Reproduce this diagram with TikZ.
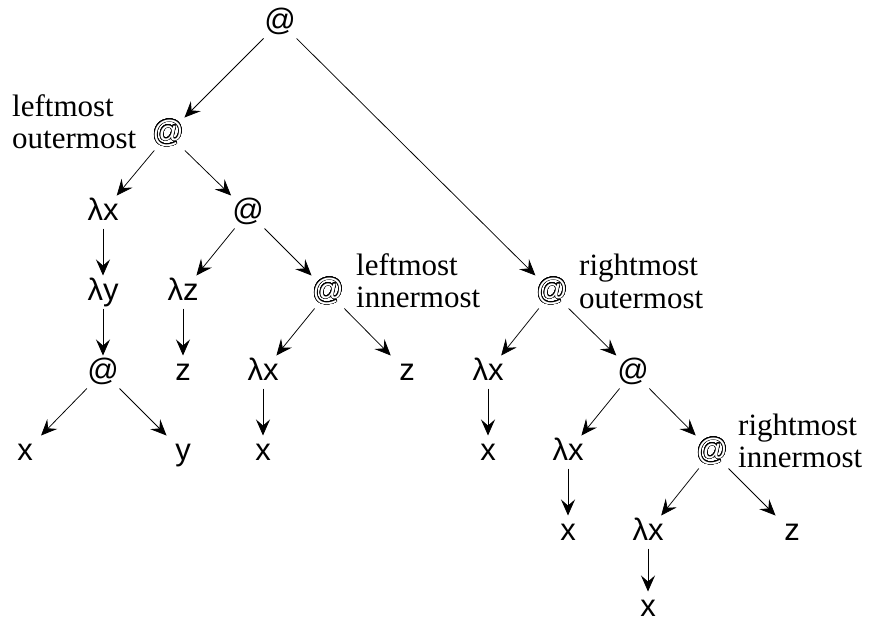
\documentclass[tikz,border=0pt]{standalone}
\usepackage{fontspec}
\setmainfont{Liberation Serif}
\newfontfamily\lamsans{Liberation Sans}
\usepackage{contour}
\contourlength{0.6pt}
\contournumber{32}
\usetikzlibrary{arrows.meta}
\tikzset{
  tn/.style={font=\lamsans\fontsize{31}{33}\selectfont, inner sep=0pt, outer sep=0pt,
    text height=24pt, text depth=8pt, minimum width=34pt, minimum height=33pt},
  lab/.style={font=\fontsize{31}{32}\selectfont, anchor=base west, inner sep=0pt},
  arr/.style={-{Stealth[length=16pt,width=14pt,inset=6pt]}, line width=0.75pt},
}
\newcommand{\outat}{\contour{black}{\textcolor{white}{@}}}
\begin{document}
\begin{tikzpicture}[x=1pt,y=-1pt]
\useasboundingbox (0,0) rectangle (870,621);
% nodes
\node[tn] (root) at (280,22) {@};
\node[tn] (lo) at (168,134) {\outat};
\node[tn] (lx1) at (103,212) {λx};
\node[tn] (a2) at (248,212) {@};
\node[tn] (ly) at (103,292) {λy};
\node[tn] (lz) at (183,292) {λz};
\node[tn] (li) at (328,292) {\outat};
\node[tn] (ro) at (552,292) {\outat};
\node[tn] (a3) at (103,372) {@};
\node[tn] (z1) at (183,372) {z};
\node[tn] (lx2) at (263,372) {λx};
\node[tn] (z2) at (407,372) {z};
\node[tn] (lx3) at (488,372) {λx};
\node[tn] (a4) at (633,372) {@};
\node[tn] (x1) at (25,452) {x};
\node[tn] (y1) at (183,452) {y};
\node[tn] (x2) at (263,452) {x};
\node[tn] (x3) at (488,452) {x};
\node[tn] (lx4) at (568,452) {λx};
\node[tn] (ri) at (712,452) {\outat};
\node[tn] (x4) at (568,532) {x};
\node[tn] (lx5) at (648,532) {λx};
\node[tn] (z3) at (792,532) {z};
\node[tn] (x5) at (648,608) {x};
% labels
\node[lab] (lo1) at (12,116) {leftmost};
\node[lab] (lo2) at (12,148) {outermost};
\node[lab] (li1) at (356,275) {leftmost};
\node[lab] (li2) at (356,307) {innermost};
\node[lab] (ro1) at (579,275) {rightmost};
\node[lab] (ro2) at (579,308) {outermost};
\node[lab] (ri1) at (738,435) {rightmost};
\node[lab] (ri2) at (738,467) {innermost};
% edges
\draw[arr] (root) -- (lo);
\draw[arr] (root) -- (ro);
\draw[arr] (lo) -- (lx1);
\draw[arr] (lo) -- (a2);
\draw[arr] (lx1) -- (ly);
\draw[arr] (ly) -- (a3);
\draw[arr] (a3) -- (x1);
\draw[arr] (a3) -- (y1);
\draw[arr] (a2) -- (lz);
\draw[arr] (a2) -- (li);
\draw[arr] (lz) -- (z1);
\draw[arr] (li) -- (lx2);
\draw[arr] (li) -- (z2);
\draw[arr] (lx2) -- (x2);
\draw[arr] (ro) -- (lx3);
\draw[arr] (ro) -- (a4);
\draw[arr] (lx3) -- (x3);
\draw[arr] (a4) -- (lx4);
\draw[arr] (a4) -- (ri);
\draw[arr] (lx4) -- (x4);
\draw[arr] (ri) -- (lx5);
\draw[arr] (ri) -- (z3);
\draw[arr] (lx5) -- (x5);
\end{tikzpicture}
\end{document}
